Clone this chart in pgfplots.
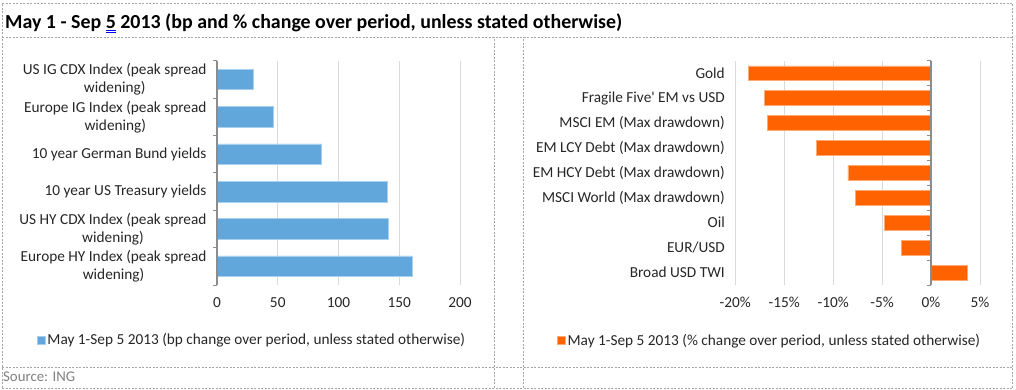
\documentclass[border=0pt]{standalone}
\usepackage{pgfplots}
\pgfplotsset{compat=1.18}
\usepackage{fontspec}
\setmainfont{Carlito}
\definecolor{ingblue}{HTML}{62A7DC}
\definecolor{ingorange}{HTML}{FF6200}
\definecolor{gridc}{HTML}{D9D9D9}
\definecolor{axc}{HTML}{8C8C8C}
\definecolor{txt}{HTML}{262626}
\definecolor{dashc}{HTML}{A6A6A6}
\begin{document}
\begin{tikzpicture}[x=1pt,y=1pt]
\useasboundingbox (0,0) rectangle (1016,390);
% frame
\begin{scope}[dashc, line width=0.8pt, dash pattern=on 2pt off 1.5pt]
\draw (2,387) -- (1012,387);
\draw (2,353) -- (1012,353);
\draw (2,23) -- (1012,23);
\draw (2,2) -- (1012,2);
\draw (2,2) -- (2,387);
\draw (1012,2) -- (1012,387);
\draw (494,2) -- (494,353);
\draw (523,2) -- (523,353);
\end{scope}
\node[anchor=base west, inner sep=0pt, text=black, font=\fontsize{19.9}{23}\selectfont\bfseries] at (5,361.5)
 {May 1 - Sep {\setbox0\hbox{5}\rlap{\color{blue}\rule[-2.4pt]{\wd0}{0.6pt}}\rlap{\color{blue}\rule[-4.2pt]{\wd0}{0.6pt}}5} 2013 (bp and \% change over period, unless stated otherwise)};
\node[anchor=base west, inner sep=0pt, text=gray, font=\fontsize{14.8}{17}\selectfont] at (3,8.5) {Source: ING};

\pgfplotsset{
  every axis/.append style={
    scale only axis,
    y dir=reverse,
    axis line style={draw=none},
    major tick length=0pt,
    xmajorgrids,
    grid style={gridc, line width=0.9pt},
    tick label style={text=txt, font=\fontsize{15.3}{18}\selectfont},
    yticklabel style={align=center, xshift=-7pt},
    xticklabel style={yshift=-9pt},
    legend style={draw=none, fill=none, font=\fontsize{15.3}{18}\selectfont, text=txt, inner sep=0pt},
    legend image code/.code={\fill[#1] (0pt,-4pt) rectangle (8pt,4pt);},
    clip=false,
  }
}

% Left chart
\begin{axis}[
  at={(217pt,105pt)}, anchor=south west,
  width=243pt, height=224.3pt,
  xmin=0, xmax=200,
  ymin=-0.5, ymax=5.5,
  xtick={0,50,100,150,200},
  xticklabels={0,50,100,150,200},
  ytick={0,1,2,3,4,5},
  yticklabels={{US IG CDX Index (peak spread\\widening)},{Europe IG Index (peak spread\\widening)},{10 year German Bund yields},{10 year US Treasury yields},{US HY CDX Index (peak spread\\widening)},{Europe HY Index (peak spread\\widening)}},
  legend style={at={(0.144,-0.245)}, anchor=center},
]
\addplot[xbar, bar width=20.7pt, fill=ingblue, draw=ingblue!55!white, line width=0.6pt] coordinates {
(30,0) (46,1) (86,2) (140,3) (141,4) (161,5)};
\addlegendentry{May 1-Sep 5 2013 (bp change over period, unless stated otherwise)}
\draw[axc, line width=1.2pt] (axis cs:0,-0.5) -- (axis cs:0,5.5);
\pgfplotsinvokeforeach{-0.5,0.5,1.5,2.5,3.5,4.5,5.5}{\draw[axc, line width=1pt] (axis cs:0,#1) -- ++(-4pt,0pt);}
\end{axis}

% Right chart
\begin{axis}[
  at={(735.3pt,105pt)}, anchor=south west,
  width=244.7pt, height=224.3pt,
  xmin=-20, xmax=5,
  ymin=-0.5, ymax=8.5,
  xtick={-20,-15,-10,-5,0,5},
  xticklabels={-20\%,-15\%,-10\%,-5\%,0\%,5\%},
  ytick={0,1,2,3,4,5,6,7,8},
  yticklabels={Gold,Fragile Five\textquotesingle{} EM vs USD,MSCI EM (Max drawdown),EM LCY Debt (Max drawdown),EM HCY Debt (Max drawdown),MSCI World (Max drawdown),Oil,EUR/USD,Broad USD TWI},
  legend style={at={(0.14,-0.248)}, anchor=center},
]
\addplot[xbar, bar width=14.7pt, fill=ingorange, draw=ingorange!55!white, line width=0.6pt] coordinates {
(-18.7,0) (-17.0,1) (-16.7,2) (-11.7,3) (-8.5,4) (-7.7,5) (-4.8,6) (-3.0,7) (3.7,8)};
\addlegendentry{May 1-Sep 5 2013 (\% change over period, unless stated otherwise)}
\draw[axc, line width=1.2pt] (axis cs:0,-0.5) -- (axis cs:0,8.5);
\pgfplotsinvokeforeach{-0.5,0.5,1.5,2.5,3.5,4.5,5.5,6.5,7.5,8.5}{\draw[axc, line width=1pt] (axis cs:0,#1) -- ++(-4pt,0pt);}
\end{axis}
\end{tikzpicture}
\end{document}
